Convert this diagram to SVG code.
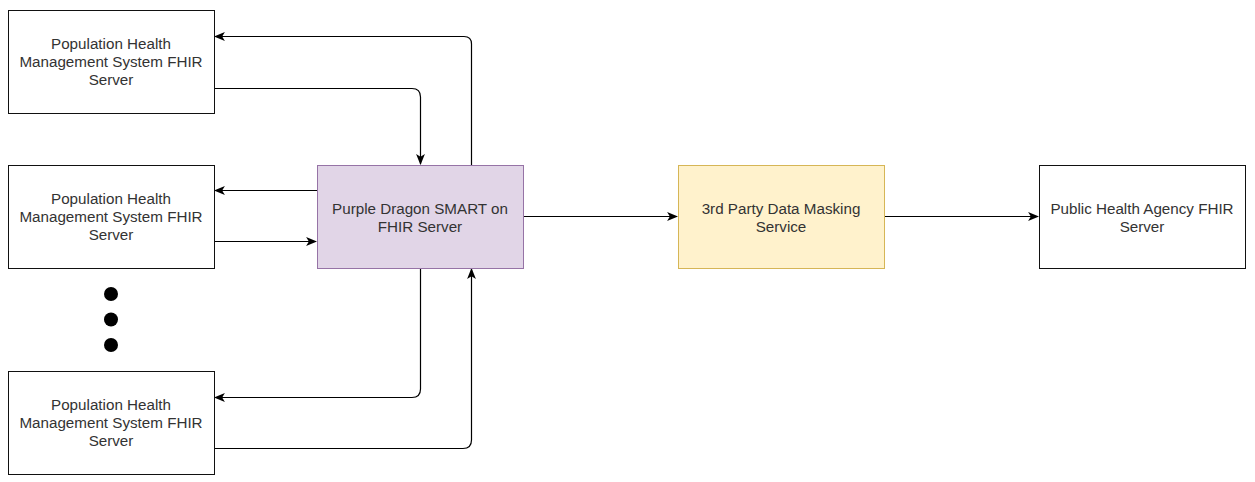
<svg xmlns="http://www.w3.org/2000/svg" width="1255" height="482" viewBox="0 0 1255 482">
<style>
.box{fill:#fff;stroke:#111;stroke-width:1}
.purple{fill:#e1d5e7;stroke:#9673a6;stroke-width:1}
.yellow{fill:#fff2cc;stroke:#d6b656;stroke-width:1}
text{font-family:"Liberation Sans",Arial,sans-serif;font-size:15.2px;fill:#333;text-anchor:middle}
.c{fill:none;stroke:#000;stroke-width:1.2;marker-end:url(#a)}
</style>
<defs>
<marker id="a" viewBox="0 0 10 10" refX="9" refY="5" markerWidth="11" markerHeight="11" markerUnits="userSpaceOnUse" orient="auto">
<path d="M0,1 L10,5 L0,9 L2.5,5 Z" fill="#000"/>
</marker>
</defs>
<rect width="1255" height="482" fill="#fff"/>
<g id="connectors">
<path class="c" d="M471.5,165 V44 Q471.5,36.5 464,36.5 H215"/>
<path class="c" d="M214,88.5 H412 Q420.5,88.5 420.5,97 V164"/>
<path class="c" d="M317,190.5 H215"/>
<path class="c" d="M214,241.5 H316"/>
<path class="c" d="M420.5,268 V389 Q420.5,397.5 412,397.5 H215"/>
<path class="c" d="M214,448.5 H463 Q471.5,448.5 471.5,440 V269"/>
<path class="c" d="M523,216.5 H677"/>
<path class="c" d="M884,216.5 H1038"/>
</g>
<g id="phm1"><rect class="box" x="8.5" y="10.5" width="206" height="103"/><text x="111" y="49">Population Health</text><text x="111" y="67">Management System FHIR</text><text x="111" y="85">Server</text></g>
<g id="phm2"><rect class="box" x="8.5" y="165.5" width="206" height="103"/><text x="111" y="204">Population Health</text><text x="111" y="222">Management System FHIR</text><text x="111" y="240">Server</text></g>
<g id="phm3"><rect class="box" x="8.5" y="371.5" width="206" height="103"/><text x="111" y="410">Population Health</text><text x="111" y="428">Management System FHIR</text><text x="111" y="446">Server</text></g>
<g id="dots"><circle cx="111" cy="294" r="7" fill="#000"/><circle cx="111" cy="319.5" r="7" fill="#000"/><circle cx="111" cy="345" r="7" fill="#000"/></g>
<g id="purple"><rect class="purple" x="317.5" y="165.5" width="206" height="103"/><text x="420" y="214">Purple Dragon SMART on</text><text x="420" y="232">FHIR Server</text></g>
<g id="masking"><rect class="yellow" x="678.5" y="165.5" width="206" height="103"/><text x="781" y="214">3rd Party Data Masking</text><text x="781" y="232">Service</text></g>
<g id="pha"><rect class="box" x="1039.5" y="165.5" width="206" height="103"/><text x="1142" y="214">Public Health Agency FHIR</text><text x="1142" y="232">Server</text></g>
</svg>
